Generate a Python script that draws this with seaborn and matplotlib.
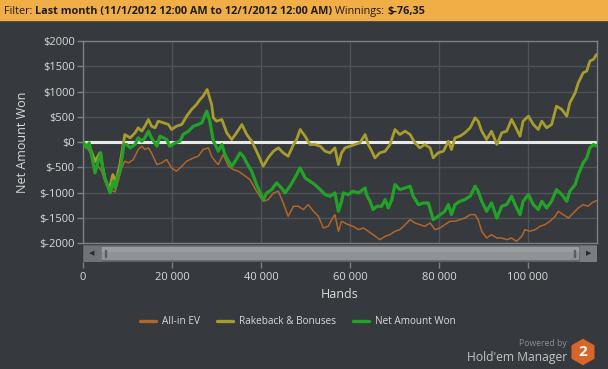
import pandas as pd
import matplotlib
matplotlib.use("Agg")
import matplotlib.pyplot as plt
import matplotlib.patches as mpatches
from matplotlib.lines import Line2D
import seaborn as sns

# --- values (hands played, cumulative $) ---
ev_hands = [0, 1200, 2300, 3400, 4200, 4900, 6100, 7200, 7900, 8700,
            9400, 10200, 11300, 12400, 13200, 13900, 14700, 15400, 16600, 17700,
            18800, 19900, 21000, 22200, 23300, 24800, 25900, 27000, 28200, 28900,
            29700, 30400, 31500, 32700, 33800, 34900, 36000, 37500, 39000, 40500,
            41600, 42800, 43900, 45000, 46100, 47300, 48400, 49500, 50600, 51800,
            52900, 54000, 55100, 55900, 56600, 57400, 58100, 59600, 60700, 61900,
            63000, 64100, 65200, 66700, 67900, 69000, 70100, 71200, 72400, 73500,
            74600, 75700, 76800, 78000, 79100, 80200, 81300, 82500, 83600, 84700,
            85800, 87000, 88100, 88800, 89600, 90700, 91800, 93000, 94100, 95200,
            96300, 97400, 98600, 99300, 100400, 101600, 102700, 103800, 104900, 106100,
            106800, 107900, 109100, 110200, 111300, 112400, 113500, 114300, 115400]
ev_won = [0, -146, -311, -476, -575, -773, -938, -984, -773, -509,
          -377, -410, -344, -146, -80, -146, -113, -212, -443, -410,
          -344, -509, -575, -476, -377, -311, -278, -146, -113, -278,
          -377, -443, -245, -476, -542, -575, -641, -740, -971, -1169,
          -1136, -1004, -971, -1202, -1466, -1268, -1268, -1334, -1235, -1367,
          -1466, -1697, -1664, -1532, -1433, -1763, -1565, -1631, -1664, -1730,
          -1697, -1763, -1829, -1928, -1862, -1829, -1763, -1730, -1631, -1532,
          -1598, -1631, -1664, -1598, -1730, -1697, -1631, -1565, -1565, -1532,
          -1499, -1433, -1433, -1532, -1763, -1895, -1829, -1895, -1895, -1928,
          -1895, -1961, -1862, -1730, -1763, -1730, -1664, -1631, -1565, -1466,
          -1367, -1433, -1499, -1400, -1301, -1235, -1268, -1202, -1155]

rb_hands = [0, 1600, 2700, 3800, 4900, 5900, 6700, 7400, 8300, 9400,
            10600, 11700, 12400, 13200, 13900, 14700, 15400, 16200, 16900, 18100,
            19200, 19900, 21000, 22200, 23300, 24400, 25500, 26300, 27000, 27900,
            28900, 29300, 30000, 31200, 32300, 33400, 34500, 35700, 36800, 37900,
            39000, 40500, 41600, 42800, 43900, 45000, 46100, 47300, 48000, 48800,
            49900, 51000, 52100, 53300, 54400, 55500, 56600, 57400, 58100, 58900,
            60000, 61100, 62200, 63400, 64100, 64900, 65600, 66700, 67900, 69000,
            70100, 71200, 72400, 73500, 74600, 75700, 76800, 78000, 78700, 79800,
            81000, 82100, 82800, 83600, 84700, 85800, 87000, 88100, 88800, 89600,
            90700, 91800, 93000, 94100, 95200, 96300, 97100, 98200, 98900, 100100,
            101200, 102300, 103100, 104200, 105300, 106400, 107600, 108700, 109400, 110600,
            111300, 112400, 113200, 113900, 114700, 115400]
rb_won = [0, -113, -377, -212, -707, -938, -641, -773, -443, 151,
          85, 184, 283, 217, 316, 448, 316, 283, 415, 382,
          349, 250, 316, 349, 514, 646, 745, 844, 910, 1042,
          745, 481, 415, 448, 184, 52, 184, 349, 151, 19,
          -179, -476, -311, -179, -113, -212, -278, -47, 52, 250,
          118, -47, -47, -80, -179, -212, -113, -443, -212, -113,
          -80, -47, -14, 151, -47, -179, -311, -212, -179, -47,
          250, 151, 217, 151, -14, -113, -47, -113, -311, -212,
          -179, 19, -146, 85, 118, 184, 283, 481, 415, 217,
          52, 217, -47, 184, 217, 448, 316, 118, 415, 514,
          349, 250, 415, 283, 349, 712, 646, 514, 778, 976,
          1174, 1372, 1405, 1603, 1636, 1735]

net_hands = [0, 800, 1400, 1900, 2700, 3400, 4000, 4400, 4900, 6100,
             6800, 7200, 7700, 8300, 9200, 9800, 10600, 11700, 12400, 13200,
             13900, 14700, 15400, 16600, 17300, 18100, 18800, 19500, 20700, 21800,
             22500, 23700, 24800, 25900, 26700, 27800, 28500, 29300, 29700, 30400,
             31200, 31900, 32700, 33400, 34200, 35300, 36000, 36800, 37900, 39000,
             40500, 41300, 42400, 43500, 44600, 45400, 46500, 47600, 48800, 49900,
             51000, 52100, 53300, 54400, 55500, 56600, 57400, 58100, 58500, 59600,
             60700, 61900, 63400, 63700, 64500, 65200, 66000, 67100, 67900, 68600,
             69400, 70100, 71200, 72400, 73500, 74200, 75400, 76500, 77600, 78700,
             79800, 81300, 82100, 82800, 83600, 84700, 85800, 87000, 88100, 88800,
             89600, 90700, 91800, 93000, 94100, 95200, 96300, 97100, 98200, 98900,
             100100, 101200, 102300, 103100, 104200, 105300, 106400, 107600, 108700, 109400,
             110600, 111300, 112400, 113200, 113900, 114700, 115400]
net_won = [0, -113, -14, -245, -608, -377, -212, -509, -707, -1004,
           -773, -905, -707, -575, -47, -47, -113, -47, 85, 19,
           85, 217, 85, -80, 118, 85, 52, -80, -14, 19,
           151, 217, 316, 349, 382, 613, 415, 19, -47, -179,
           -47, -245, -377, -476, -377, -212, -278, -410, -575, -839,
           -1136, -1004, -938, -806, -905, -1004, -872, -707, -509, -707,
           -773, -839, -938, -1037, -1070, -1004, -1367, -1169, -1004, -1037,
           -971, -1004, -905, -1037, -1169, -1334, -1268, -1268, -1136, -1301,
           -1136, -839, -938, -905, -872, -1070, -1235, -1202, -1202, -1532,
           -1466, -1367, -1235, -1433, -1235, -1169, -1136, -1070, -872, -971,
           -1169, -1367, -1202, -1499, -1268, -1235, -1070, -1235, -1433, -1169,
           -1037, -1235, -1334, -1169, -1301, -1169, -938, -1037, -1169, -971,
           -839, -641, -410, -311, -113, -47, -76]

series_names = ["All-in EV", "Rakeback & Bonuses", "Net Amount Won"]
series_colors = ["#b2662a", "#a69d2c", "#22a328"]
y_ticks = list(range(-2000, 2001, 500))
x_ticks = list(range(0, 100001, 20000))
x_labels = ["0", "20 000", "40 000", "60 000", "80 000", "100 000"]
x_max = 115500

BG = "#36393d"
FRAME = "#7c7f83"
GRID = "#4f5357"
TXT = "#dadada"

sns.set_theme(style="dark")
plt.rcParams["font.family"] = ["Open Sans", "DejaVu Sans"]

W, H = 608, 369
fig = plt.figure(figsize=(W / 100, H / 100), dpi=100, facecolor=BG)


def box(x0, y0, x1, y1):
    # pixel box (top-left origin) -> figure fraction rect
    return [x0 / W, 1 - y1 / H, (x1 - x0) / W, (y1 - y0) / H]


# main plot
ax = fig.add_axes(box(83, 41, 597, 243.3))
ax.set_facecolor(BG)
for s in ax.spines.values():
    s.set_color(FRAME)
    s.set_linewidth(1)
ax.set_xlim(0, x_max)
ax.set_ylim(-2000, 2000)
ax.set_xticks(x_ticks)
ax.set_yticks(y_ticks)
ax.set_yticklabels([f"${v}" for v in y_ticks])
ax.tick_params(axis="x", length=0, labelbottom=False)
ax.tick_params(axis="y", length=4, width=1, color=FRAME, labelcolor=TXT,
               labelsize=8, pad=2, left=True)
ax.grid(True, color=GRID, lw=1)
ax.axhline(0, color="#e8e8e8", lw=2.2, zorder=2)

frames = [pd.DataFrame({"hands": ev_hands, "won": ev_won}),
          pd.DataFrame({"hands": rb_hands, "won": rb_won}),
          pd.DataFrame({"hands": net_hands, "won": net_won})]
widths = [1.1, 2.0, 2.3]
for name, df, c, lw in zip(series_names, frames, series_colors, widths):
    sns.lineplot(data=df, x="hands", y="won", ax=ax, color=c, lw=lw,
                 sort=False, estimator=None, zorder=3)
ax.set_xlabel("")
ax.set_ylabel("")

# scrollbar strip carrying the x ticks
sax = fig.add_axes(box(83, 245, 597, 262))
sax.set_xlim(0, x_max)
sax.set_ylim(0, 1)
sax.set_facecolor("#5e6165")
for s in sax.spines.values():
    s.set_visible(False)
sax.set_yticks([])
sax.set_xticks(x_ticks)
sax.set_xticklabels(x_labels)
sax.tick_params(axis="x", length=4, width=1, color=FRAME, labelcolor=TXT,
                labelsize=8, pad=3, bottom=True)
sax.grid(False)


def px(x):
    return (x - 83) / 514


sax.add_patch(mpatches.Rectangle((px(84), 0.08), px(101) - px(84), 0.84,
                                 transform=sax.transAxes, color="#707377"))
sax.add_patch(mpatches.Rectangle((px(580), 0.08), px(596) - px(580), 0.84,
                                 transform=sax.transAxes, color="#7a7d81"))
sax.add_patch(mpatches.Rectangle((px(102), 0.15), px(578) - px(102), 0.72,
                                 transform=sax.transAxes, color="#8f9296"))
sax.add_patch(mpatches.Rectangle((px(102), 0.62), px(578) - px(102), 0.25,
                                 transform=sax.transAxes, color="#9a9da0"))
for mx in (104.5, 573.5):
    sax.add_patch(mpatches.Rectangle((px(mx), 0.3), px(mx + 1.5) - px(mx), 0.4,
                                     transform=sax.transAxes, color="#5a5d61"))
sax.text(px(91.5), 0.5, "◀", transform=sax.transAxes, ha="center",
         va="center", fontsize=5, color="#2a2c2e", family="DejaVu Sans")
sax.text(px(588.5), 0.5, "▶", transform=sax.transAxes, ha="center",
         va="center", fontsize=5, color="#2a2c2e", family="DejaVu Sans")

# axis titles
fig.text(23 / W, 1 - 142 / H, "Net Amount Won", rotation=90, ha="center",
         va="center", fontsize=9, color=TXT)
fig.text(340 / W, 1 - 294 / H, "Hands", ha="center", va="center",
         fontsize=9, color=TXT)

# legend
handles = [Line2D([], [], color=c, lw=2.4) for c in series_colors]
fig.legend(handles, series_names, loc="center", bbox_to_anchor=(298 / W, 1 - 322 / H),
           ncol=3, frameon=False, fontsize=7.2, labelcolor=TXT, handlelength=1.6,
           handletextpad=0.6, columnspacing=1.7)

# header bar
fig.add_artist(mpatches.Rectangle((0, 1 - 20 / H), 1, 20 / H,
                                  transform=fig.transFigure, color="#f1ad46"))
parts = [("Filter: ", "normal"),
         ("Last month (11/1/2012 12:00 AM to 12/1/2012 12:00 AM)", "bold"),
         (" Winnings: ", "normal"),
         ("$-76,35", "bold")]
renderer = fig.canvas.get_renderer()
x = 4
for s, w in parts:
    t = fig.text(x / W, 1 - 14 / H, s, fontsize=7.8, fontweight=w,
                 color="#1c1c1c", va="baseline", ha="left")
    x = t.get_window_extent(renderer).x1

# branding
fig.text(567 / W, 1 - 344 / H, "Powered by", ha="right", va="center",
         fontsize=6.2, color="#8e8e8e")
fig.text(567 / W, 1 - 357 / H, "Hold'em Manager", ha="right", va="center",
         fontsize=8.7, color="#c4c4c4")
fig.add_artist(mpatches.RegularPolygon((5.83, (H - 352) / 100), 6, radius=0.125,
                                       orientation=0, transform=fig.dpi_scale_trans,
                                       color="#d8652a"))
fig.text(583 / W, 1 - 352 / H, "2", ha="center", va="center", fontsize=11,
         fontweight="bold", color="white")

fig.savefig("out.png", dpi=100, facecolor=BG)
